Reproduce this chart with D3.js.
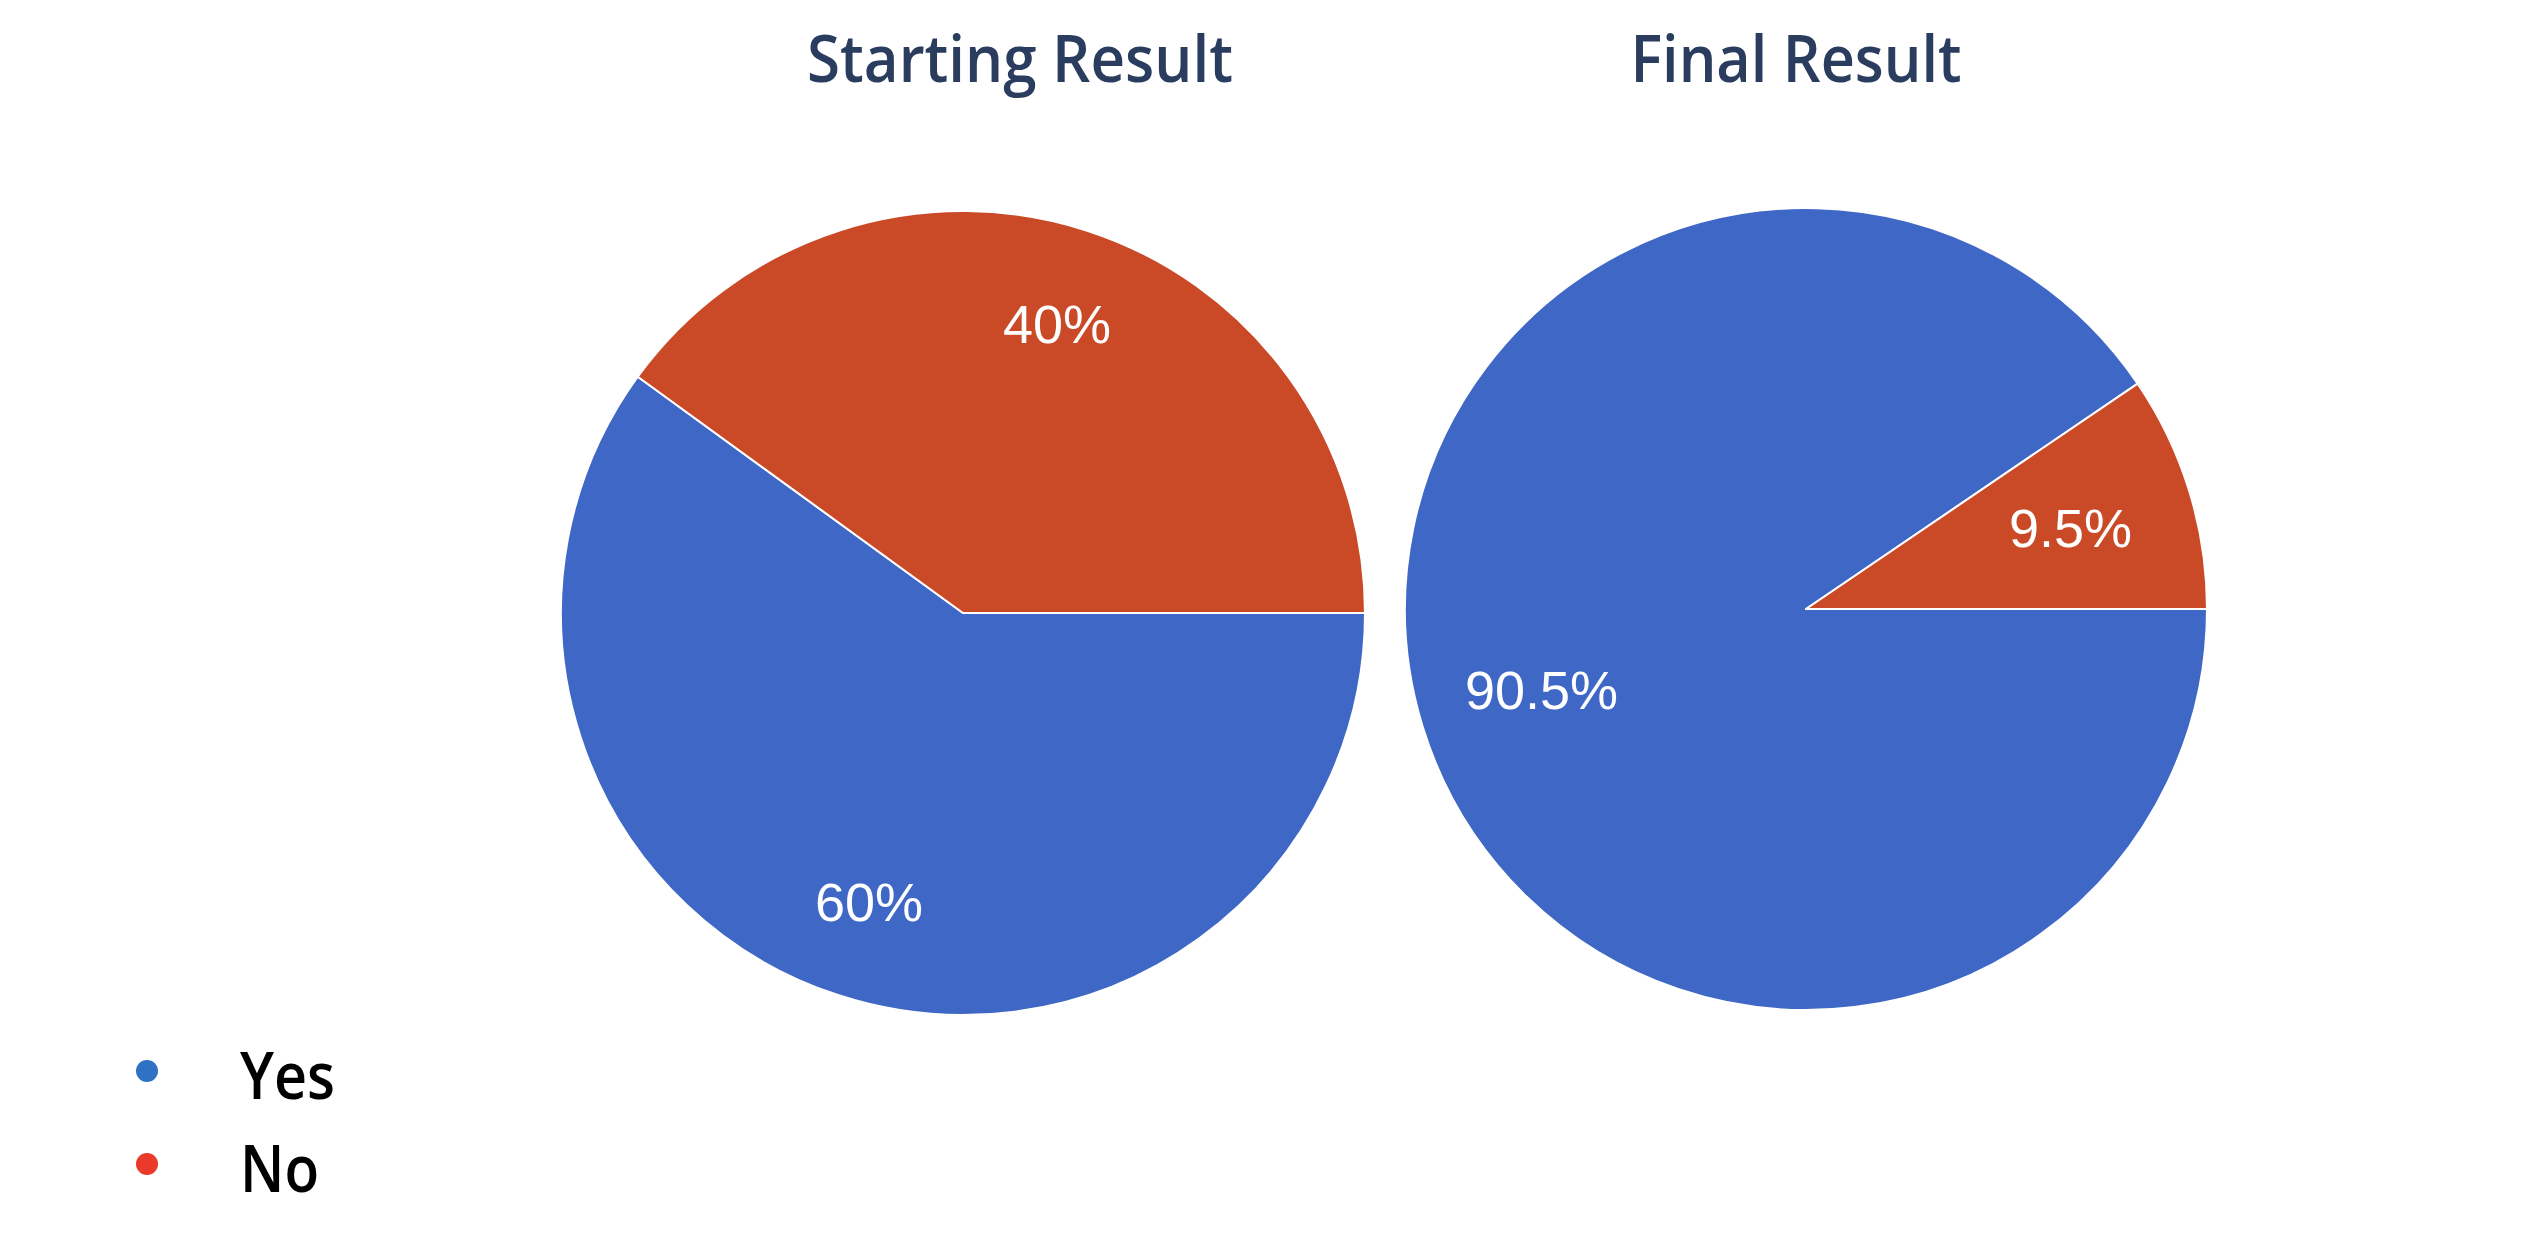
<!DOCTYPE html>
<html>
<head>
<meta charset="utf-8">
<script src="https://cdn.jsdelivr.net/npm/d3@7"></script>
<style>
  body { margin: 0; background: #fff; }
  svg { display: block; }
  .title { font-family: "Open Sans", sans-serif; font-weight: 600; fill: #2b3d5f; font-size: 66px; }
  .slice-label { font-family: "Liberation Sans", Arial, sans-serif; fill: #fff; font-size: 54px; }
  .legend-label { font-family: "Open Sans", sans-serif; font-weight: 600; fill: #000; font-size: 65px; }
</style>
</head>
<body>
<div id="chart"></div>
<script>
// data
const categories = ["Yes", "No"];
const chartTitles = ["Starting Result", "Final Result"];
const startingValues = [60, 40];
const finalValues = [90.5, 9.5];

const sliceColors = ["#3f67c6", "#ca4a28"];
const legendColors = ["#2f72c4", "#ea3a2a"];

const width = 2534, height = 1244;

// layout of the two pies (center, radius, label distance as share of radius)
const pies = [
  { title: chartTitles[0], values: startingValues, cx: 963, cy: 613, r: 402, labelR: 0.757, titleX: 1020, titleW: 426 },
  { title: chartTitles[1], values: finalValues, cx: 1806, cy: 609, r: 401, labelR: 0.69, titleX: 1796, titleW: 331 }
];

const svg = d3.select("#chart")
  .append("svg")
  .attr("width", width)
  .attr("height", height);

const color = d3.scaleOrdinal().domain(categories).range(sliceColors);
const legendColor = d3.scaleOrdinal().domain(categories).range(legendColors);

// slices start at 3 o'clock and run clockwise
const pie = d3.pie()
  .sort(null)
  .startAngle(Math.PI / 2)
  .endAngle(Math.PI / 2 + 2 * Math.PI)
  .value(d => d.value);

pies.forEach(p => {
  const rows = categories.map((c, i) => ({ category: c, value: p.values[i] }));
  const arc = d3.arc().innerRadius(0).outerRadius(p.r);
  const labelArc = d3.arc().innerRadius(p.r * p.labelR).outerRadius(p.r * p.labelR);

  const g = svg.append("g")
    .attr("transform", `translate(${p.cx},${p.cy})`);

  g.selectAll("path")
    .data(pie(rows))
    .join("path")
    .attr("d", arc)
    .attr("fill", d => color(d.data.category))
    .attr("stroke", "#fff")
    .attr("stroke-width", 2)
    .attr("stroke-linejoin", "round");

  g.selectAll("text")
    .data(pie(rows))
    .join("text")
    .attr("class", "slice-label")
    .attr("text-anchor", "middle")
    .attr("transform", d => {
      const [x, y] = labelArc.centroid(d);
      return `translate(${x},${y + 19})`;
    })
    .text(d => d.data.value + "%");

  svg.append("text")
    .attr("class", "title")
    .attr("x", p.titleX)
    .attr("y", 82)
    .attr("text-anchor", "middle")
    .attr("textLength", p.titleW)
    .attr("lengthAdjust", "spacingAndGlyphs")
    .text(p.title);
});

// legend
const legendY = d3.scalePoint().domain(categories).range([1071, 1164]);
const legendTextW = { Yes: 95, No: 79 };

const legend = svg.append("g");
legend.selectAll("circle")
  .data(categories)
  .join("circle")
  .attr("cx", 147)
  .attr("cy", d => legendY(d))
  .attr("r", 11)
  .attr("fill", d => legendColor(d));

legend.selectAll("text")
  .data(categories)
  .join("text")
  .attr("class", "legend-label")
  .attr("x", 240)
  .attr("y", d => legendY(d) + 28)
  .attr("textLength", d => legendTextW[d])
  .attr("lengthAdjust", "spacingAndGlyphs")
  .text(d => d);
</script>
</body>
</html>
